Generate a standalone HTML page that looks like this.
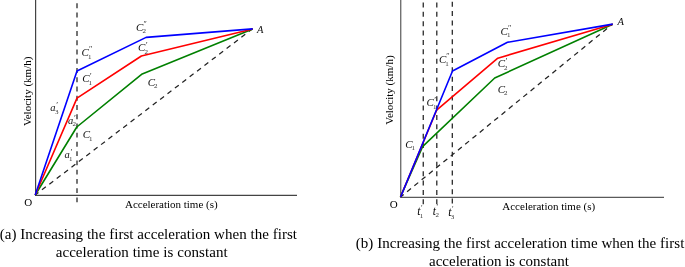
<!DOCTYPE html>
<html><head><meta charset="utf-8">
<style>
html,body{margin:0;padding:0;background:#fff;}
body{width:685px;height:267px;overflow:hidden;position:relative;}
svg{position:absolute;left:0;top:0;display:block}
text{font-family:"Liberation Serif","Times New Roman",serif;fill:#000}
.ax{stroke:#444;stroke-width:1.2;fill:none}
.d{stroke:#222;stroke-width:1.25;fill:none;stroke-dasharray:4.9 4.4}
.v{stroke-dasharray:5 4.375}
.b{stroke:#0000ff;stroke-width:1.6;fill:none;stroke-linejoin:round}
.r{stroke:#ff0000;stroke-width:1.6;fill:none;stroke-linejoin:round}
.g{stroke:#008000;stroke-width:1.6;fill:none;stroke-linejoin:round}
.it{font-style:italic;font-size:11px;fill:#111}
.sub{font-size:7px;fill:#333}
.pr{font-size:9px;fill:#333}
.a{font-size:10.5px}
.p2{font-size:8px}
.pt{font-size:7.5px}
.t{font-size:11.5px;fill:#000}
.A{font-size:10.5px}
.cap{font-size:15px}
.axl{font-size:11px}
</style></head><body>
<svg width="685" height="267" viewBox="0 0 685 267">
<!-- left chart -->
<line class="ax" x1="35.6" y1="0" x2="35.6" y2="195.4"/>
<line class="ax" x1="35" y1="195.4" x2="297" y2="195.4"/>
<line class="d" style="stroke-dasharray:4.9 4.34" x1="77" y1="202.3" x2="77" y2="0"/>
<line class="d" stroke-dashoffset="0.8" x1="35.2" y1="195.0" x2="252.7" y2="28.6"/>
<polyline class="g" points="35.2,195.0 76.8,127.0 141.6,74.3 252.7,29.1"/>
<polyline class="r" points="35.2,195.0 77,98.1 141.4,56.0 252.7,29.0"/>
<polyline class="b" points="35.2,195.0 77,71.0 146.1,37.4 252.7,28.9"/>
<text class="axl" x="24.3" y="206.3">O</text>
<text class="axl" transform="translate(30.7,126) rotate(-90)">Velocity (km/h)</text>
<text class="axl" x="125" y="208.1" textLength="92.6">Acceleration time (s)</text>
<text class="it" x="81.6" y="56.2">C</text><text class="sub" x="87.9" y="58.7">1</text><text class="pr p2" x="89.0" y="52.3">″</text><text class="it" x="82.2" y="82.0">C</text><text class="sub" x="88.5" y="84.5">1</text><text class="pr" x="89.8" y="78.8">′</text><text class="it" x="82.7" y="138.0">C</text><text class="sub" x="89.0" y="140.5">1</text><text class="it" x="136.1" y="30.7">C</text><text class="sub" x="142.4" y="33.2">2</text><text class="pr p2" x="143.5" y="26.8">″</text><text class="it" x="138.1" y="51.3">C</text><text class="sub" x="144.4" y="53.8">2</text><text class="pr" x="145.7" y="48.1">′</text><text class="it" x="147.8" y="85.8">C</text><text class="sub" x="154.1" y="88.3">2</text><text class="it a" x="50.3" y="111">a</text><text class="sub" x="54.9" y="113.5">3</text><text class="pr" x="56.3" y="107.8">′</text><text class="it a" x="67.9" y="123.9">a</text><text class="sub" x="72.5" y="126.4">2</text><text class="pr" x="73.9" y="120.7">′</text><text class="it a" x="64.5" y="158.1">a</text><text class="sub" x="69.1" y="160.6">1</text><text class="pr" x="70.5" y="154.9">′</text><text class="it A" x="257.1" y="33">A</text>
<text class="cap" x="-0.3" y="239" textLength="297.3">(a) Increasing the first acceleration when the first</text>
<text class="cap" x="55.7" y="257.4" textLength="171.9">acceleration time is constant</text>
<!-- right chart -->
<line class="ax" style="stroke:#5a5a5a" x1="400.75" y1="0" x2="400.75" y2="197.3"/>
<line class="ax" style="stroke:#5a5a5a" x1="400.15" y1="197.3" x2="664" y2="197.3"/>
<line class="d v" x1="423.25" y1="204.3" x2="423.25" y2="0"/>
<line class="d v" x1="436.8" y1="204.3" x2="436.8" y2="0"/>
<line class="d v" x1="452.3" y1="203.5" x2="452.3" y2="0"/>
<line class="d v" stroke-dashoffset="1.0" x1="400.6" y1="197.0" x2="612.7" y2="23.9"/>
<polyline class="g" points="400.4,197.0 422.8,146.3 494.7,78.0 612.7,24.3"/>
<polyline class="r" points="400.5,197.0 436.6,110.2 497.8,58.2 612.7,24.2"/>
<polyline class="b" points="400.6,197.0 452.5,71.0 507.5,42.3 612.7,24.1"/>
<text class="axl" x="389.7" y="208.2">O</text>
<text class="axl" transform="translate(392.7,124.8) rotate(-90)">Velocity (km/h)</text>
<text class="axl" x="502.3" y="209.9">Acceleration time (s)</text>
<text class="it" x="438.9" y="63.1">C</text><text class="sub" x="445.2" y="65.6">1</text><text class="pr p2" x="446.3" y="59.2">″</text><text class="it" x="426.6" y="106.3">C</text><text class="sub" x="432.9" y="108.8">1</text><text class="pr" x="434.2" y="103.1">′</text><text class="it" x="405.3" y="147.6">C</text><text class="sub" x="411.6" y="150.1">1</text><text class="it" x="500.6" y="34.5">C</text><text class="sub" x="506.9" y="37.0">1</text><text class="pr p2" x="508.0" y="30.6">″</text><text class="it" x="497.8" y="67.4">C</text><text class="sub" x="504.1" y="69.9">2</text><text class="pr" x="505.4" y="64.2">′</text><text class="it" x="497.8" y="92.8">C</text><text class="sub" x="504.1" y="95.3">2</text><text class="it t" x="417.2" y="215.4">t</text><text class="sub" x="419.8" y="217.9">1</text><text class="pr pt" x="420.9" y="211.1">′</text><text class="it t" x="432.8" y="214.6">t</text><text class="sub" x="435.4" y="217.1">2</text><text class="pr pt" x="436.5" y="210.3">′</text><text class="it t" x="448.2" y="216.1">t</text><text class="sub" x="450.8" y="218.6">3</text><text class="pr pt" x="451.9" y="211.8">′</text><text class="it A" x="617.5" y="25.2">A</text>
<text class="cap" x="355.8" y="248.3" textLength="328.6">(b) Increasing the first acceleration time when the first</text>
<text class="cap" x="429" y="265.5">acceleration is constant</text>
</svg>
</body></html>
